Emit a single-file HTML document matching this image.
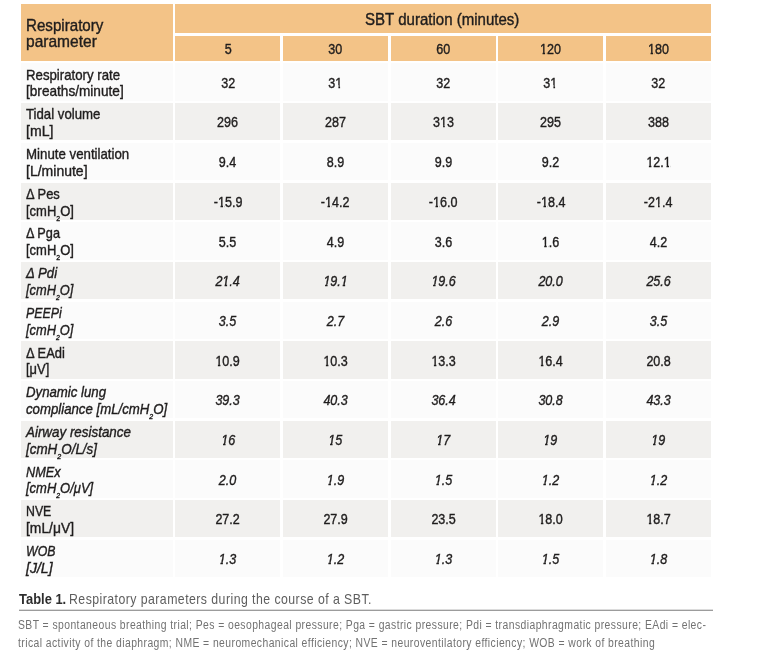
<!DOCTYPE html>
<html lang="en"><head><meta charset="utf-8"><title>Table 1. Respiratory parameters during the course of a SBT</title>
<style>
html,body{margin:0;padding:0;background:#fff;}
body{width:759px;height:665px;position:relative;overflow:hidden;font-family:"Liberation Sans",Arial,sans-serif;color:#1f1d1d;}
.b{position:absolute;}
#tx{position:absolute;left:0;top:0;width:759px;height:665px;will-change:transform;}
.t{position:absolute;white-space:nowrap;-webkit-text-stroke:0.4px currentColor;}
.t span{display:inline-block;transform-origin:0 50%;}
.t.c{text-align:center;}
.t.c span{transform-origin:50% 50%;}
.i{font-style:italic;}
.bold{font-weight:bold;}
.t.cap{color:#5e5e5e;-webkit-text-stroke:0;}
.t.cap.bold{color:#2e2e2e;}
.t.foot{color:#727272;-webkit-text-stroke:0;}
b.o{font-weight:normal;position:relative;}
b.o::before,b.o::after{content:"";position:absolute;background:var(--bg);bottom:0.1em;height:0.26em;}
b.o::before{left:0;width:0.215em;}
b.o::after{left:0.378em;width:0.185em;}
.i b.o::before{left:-0.04em;width:0.2em;}
.i b.o::after{left:0.345em;width:0.22em;}
sub{font-size:0.53em;vertical-align:baseline;position:relative;top:0.64em;line-height:0;}

</style></head>
<body>
<div class="b" style="left:21px;top:4px;width:152.00px;height:57.00px;background:#f3c387"></div>
<div class="b" style="left:175.3px;top:4px;width:535.70px;height:29.30px;background:#f3c387"></div>
<div class="b" style="left:175.3px;top:35.9px;width:105.20px;height:25.00px;background:#f3c387"></div>
<div class="b" style="left:283px;top:35.9px;width:105.00px;height:25.00px;background:#f3c387"></div>
<div class="b" style="left:390.5px;top:35.9px;width:105.50px;height:25.00px;background:#f3c387"></div>
<div class="b" style="left:498px;top:35.9px;width:105.30px;height:25.00px;background:#f3c387"></div>
<div class="b" style="left:606px;top:35.9px;width:105.00px;height:25.00px;background:#f3c387"></div>
<div class="b" style="left:21px;top:63.4px;width:152.00px;height:37.40px;background:#fbfbfb"></div>
<div class="b" style="left:175.3px;top:63.4px;width:105.20px;height:37.40px;background:#fbfbfb"></div>
<div class="b" style="left:283px;top:63.4px;width:105.00px;height:37.40px;background:#fbfbfb"></div>
<div class="b" style="left:390.5px;top:63.4px;width:105.50px;height:37.40px;background:#fbfbfb"></div>
<div class="b" style="left:498px;top:63.4px;width:105.30px;height:37.40px;background:#fbfbfb"></div>
<div class="b" style="left:606px;top:63.4px;width:105.00px;height:37.40px;background:#fbfbfb"></div>
<div class="b" style="left:21px;top:103.1px;width:152.00px;height:37.40px;background:#f1f0ee"></div>
<div class="b" style="left:175.3px;top:103.1px;width:105.20px;height:37.40px;background:#f1f0ee"></div>
<div class="b" style="left:283px;top:103.1px;width:105.00px;height:37.40px;background:#f1f0ee"></div>
<div class="b" style="left:390.5px;top:103.1px;width:105.50px;height:37.40px;background:#f1f0ee"></div>
<div class="b" style="left:498px;top:103.1px;width:105.30px;height:37.40px;background:#f1f0ee"></div>
<div class="b" style="left:606px;top:103.1px;width:105.00px;height:37.40px;background:#f1f0ee"></div>
<div class="b" style="left:21px;top:142.8px;width:152.00px;height:37.40px;background:#fbfbfb"></div>
<div class="b" style="left:175.3px;top:142.8px;width:105.20px;height:37.40px;background:#fbfbfb"></div>
<div class="b" style="left:283px;top:142.8px;width:105.00px;height:37.40px;background:#fbfbfb"></div>
<div class="b" style="left:390.5px;top:142.8px;width:105.50px;height:37.40px;background:#fbfbfb"></div>
<div class="b" style="left:498px;top:142.8px;width:105.30px;height:37.40px;background:#fbfbfb"></div>
<div class="b" style="left:606px;top:142.8px;width:105.00px;height:37.40px;background:#fbfbfb"></div>
<div class="b" style="left:21px;top:182.5px;width:152.00px;height:37.40px;background:#f1f0ee"></div>
<div class="b" style="left:175.3px;top:182.5px;width:105.20px;height:37.40px;background:#f1f0ee"></div>
<div class="b" style="left:283px;top:182.5px;width:105.00px;height:37.40px;background:#f1f0ee"></div>
<div class="b" style="left:390.5px;top:182.5px;width:105.50px;height:37.40px;background:#f1f0ee"></div>
<div class="b" style="left:498px;top:182.5px;width:105.30px;height:37.40px;background:#f1f0ee"></div>
<div class="b" style="left:606px;top:182.5px;width:105.00px;height:37.40px;background:#f1f0ee"></div>
<div class="b" style="left:21px;top:222.20000000000002px;width:152.00px;height:37.40px;background:#fbfbfb"></div>
<div class="b" style="left:175.3px;top:222.20000000000002px;width:105.20px;height:37.40px;background:#fbfbfb"></div>
<div class="b" style="left:283px;top:222.20000000000002px;width:105.00px;height:37.40px;background:#fbfbfb"></div>
<div class="b" style="left:390.5px;top:222.20000000000002px;width:105.50px;height:37.40px;background:#fbfbfb"></div>
<div class="b" style="left:498px;top:222.20000000000002px;width:105.30px;height:37.40px;background:#fbfbfb"></div>
<div class="b" style="left:606px;top:222.20000000000002px;width:105.00px;height:37.40px;background:#fbfbfb"></div>
<div class="b" style="left:21px;top:261.9px;width:152.00px;height:37.40px;background:#f1f0ee"></div>
<div class="b" style="left:175.3px;top:261.9px;width:105.20px;height:37.40px;background:#f1f0ee"></div>
<div class="b" style="left:283px;top:261.9px;width:105.00px;height:37.40px;background:#f1f0ee"></div>
<div class="b" style="left:390.5px;top:261.9px;width:105.50px;height:37.40px;background:#f1f0ee"></div>
<div class="b" style="left:498px;top:261.9px;width:105.30px;height:37.40px;background:#f1f0ee"></div>
<div class="b" style="left:606px;top:261.9px;width:105.00px;height:37.40px;background:#f1f0ee"></div>
<div class="b" style="left:21px;top:301.6px;width:152.00px;height:37.40px;background:#fbfbfb"></div>
<div class="b" style="left:175.3px;top:301.6px;width:105.20px;height:37.40px;background:#fbfbfb"></div>
<div class="b" style="left:283px;top:301.6px;width:105.00px;height:37.40px;background:#fbfbfb"></div>
<div class="b" style="left:390.5px;top:301.6px;width:105.50px;height:37.40px;background:#fbfbfb"></div>
<div class="b" style="left:498px;top:301.6px;width:105.30px;height:37.40px;background:#fbfbfb"></div>
<div class="b" style="left:606px;top:301.6px;width:105.00px;height:37.40px;background:#fbfbfb"></div>
<div class="b" style="left:21px;top:341.3px;width:152.00px;height:37.40px;background:#f1f0ee"></div>
<div class="b" style="left:175.3px;top:341.3px;width:105.20px;height:37.40px;background:#f1f0ee"></div>
<div class="b" style="left:283px;top:341.3px;width:105.00px;height:37.40px;background:#f1f0ee"></div>
<div class="b" style="left:390.5px;top:341.3px;width:105.50px;height:37.40px;background:#f1f0ee"></div>
<div class="b" style="left:498px;top:341.3px;width:105.30px;height:37.40px;background:#f1f0ee"></div>
<div class="b" style="left:606px;top:341.3px;width:105.00px;height:37.40px;background:#f1f0ee"></div>
<div class="b" style="left:21px;top:381.0px;width:152.00px;height:37.40px;background:#fbfbfb"></div>
<div class="b" style="left:175.3px;top:381.0px;width:105.20px;height:37.40px;background:#fbfbfb"></div>
<div class="b" style="left:283px;top:381.0px;width:105.00px;height:37.40px;background:#fbfbfb"></div>
<div class="b" style="left:390.5px;top:381.0px;width:105.50px;height:37.40px;background:#fbfbfb"></div>
<div class="b" style="left:498px;top:381.0px;width:105.30px;height:37.40px;background:#fbfbfb"></div>
<div class="b" style="left:606px;top:381.0px;width:105.00px;height:37.40px;background:#fbfbfb"></div>
<div class="b" style="left:21px;top:420.7px;width:152.00px;height:37.40px;background:#f1f0ee"></div>
<div class="b" style="left:175.3px;top:420.7px;width:105.20px;height:37.40px;background:#f1f0ee"></div>
<div class="b" style="left:283px;top:420.7px;width:105.00px;height:37.40px;background:#f1f0ee"></div>
<div class="b" style="left:390.5px;top:420.7px;width:105.50px;height:37.40px;background:#f1f0ee"></div>
<div class="b" style="left:498px;top:420.7px;width:105.30px;height:37.40px;background:#f1f0ee"></div>
<div class="b" style="left:606px;top:420.7px;width:105.00px;height:37.40px;background:#f1f0ee"></div>
<div class="b" style="left:21px;top:460.4px;width:152.00px;height:37.40px;background:#fbfbfb"></div>
<div class="b" style="left:175.3px;top:460.4px;width:105.20px;height:37.40px;background:#fbfbfb"></div>
<div class="b" style="left:283px;top:460.4px;width:105.00px;height:37.40px;background:#fbfbfb"></div>
<div class="b" style="left:390.5px;top:460.4px;width:105.50px;height:37.40px;background:#fbfbfb"></div>
<div class="b" style="left:498px;top:460.4px;width:105.30px;height:37.40px;background:#fbfbfb"></div>
<div class="b" style="left:606px;top:460.4px;width:105.00px;height:37.40px;background:#fbfbfb"></div>
<div class="b" style="left:21px;top:500.1px;width:152.00px;height:37.40px;background:#f1f0ee"></div>
<div class="b" style="left:175.3px;top:500.1px;width:105.20px;height:37.40px;background:#f1f0ee"></div>
<div class="b" style="left:283px;top:500.1px;width:105.00px;height:37.40px;background:#f1f0ee"></div>
<div class="b" style="left:390.5px;top:500.1px;width:105.50px;height:37.40px;background:#f1f0ee"></div>
<div class="b" style="left:498px;top:500.1px;width:105.30px;height:37.40px;background:#f1f0ee"></div>
<div class="b" style="left:606px;top:500.1px;width:105.00px;height:37.40px;background:#f1f0ee"></div>
<div class="b" style="left:21px;top:539.8000000000001px;width:152.00px;height:37.40px;background:#fbfbfb"></div>
<div class="b" style="left:175.3px;top:539.8000000000001px;width:105.20px;height:37.40px;background:#fbfbfb"></div>
<div class="b" style="left:283px;top:539.8000000000001px;width:105.00px;height:37.40px;background:#fbfbfb"></div>
<div class="b" style="left:390.5px;top:539.8000000000001px;width:105.50px;height:37.40px;background:#fbfbfb"></div>
<div class="b" style="left:498px;top:539.8000000000001px;width:105.30px;height:37.40px;background:#fbfbfb"></div>
<div class="b" style="left:606px;top:539.8000000000001px;width:105.00px;height:37.40px;background:#fbfbfb"></div>
<div class="b" style="left:18.7px;top:609px;width:694.30px;height:1.00px;background:#dcdcdc"></div>
<div class="b" style="left:18.7px;top:610px;width:694.30px;height:1.00px;background:#9c9c9c"></div>
<div id="tx">
<div class="t " style="left:25.67px;top:17.21px;font-size:17.0px;line-height:17.0px"><span style="transform:scaleX(0.8899)">Respiratory</span></div>
<div class="t " style="left:25.72px;top:33.41px;font-size:17.0px;line-height:17.0px"><span style="transform:scaleX(0.9144)">parameter</span></div>
<div class="t " style="left:365.41px;top:11.01px;font-size:17.0px;line-height:17.0px"><span style="transform:scaleX(0.8846)">SBT duration (minutes)</span></div>
<div class="t c " style="left:175.3px;width:105.20px;top:40.50px;font-size:15.0px;line-height:15.0px;--bg:#f3c387"><span style="transform:scaleX(0.8370)">5</span></div>
<div class="t c " style="left:283px;width:105.00px;top:40.50px;font-size:15.0px;line-height:15.0px;--bg:#f3c387"><span style="transform:scaleX(0.8370)">30</span></div>
<div class="t c " style="left:390.5px;width:105.50px;top:40.50px;font-size:15.0px;line-height:15.0px;--bg:#f3c387"><span style="transform:scaleX(0.8370)">60</span></div>
<div class="t c " style="left:498px;width:105.30px;top:40.50px;font-size:15.0px;line-height:15.0px;--bg:#f3c387"><span style="transform:scaleX(0.8370)"><b class="o">1</b>20</span></div>
<div class="t c " style="left:606px;width:105.00px;top:40.50px;font-size:15.0px;line-height:15.0px;--bg:#f3c387"><span style="transform:scaleX(0.8370)"><b class="o">1</b>80</span></div>
<div class="t " style="left:26.0px;top:66.60px;font-size:15.0px;line-height:15.0px"><span style="transform:scaleX(0.8811)">Respiratory rate</span></div>
<div class="t " style="left:26.0px;top:83.40px;font-size:15.0px;line-height:15.0px"><span style="transform:scaleX(0.9080)">[breaths/minute]</span></div>
<div class="t c " style="left:175.3px;width:105.20px;top:74.70px;font-size:15.0px;line-height:15.0px;--bg:#fbfbfb"><span style="transform:scaleX(0.8370)">32</span></div>
<div class="t c " style="left:283px;width:105.00px;top:74.70px;font-size:15.0px;line-height:15.0px;--bg:#fbfbfb"><span style="transform:scaleX(0.8370)">3<b class="o">1</b></span></div>
<div class="t c " style="left:390.5px;width:105.50px;top:74.70px;font-size:15.0px;line-height:15.0px;--bg:#fbfbfb"><span style="transform:scaleX(0.8370)">32</span></div>
<div class="t c " style="left:498px;width:105.30px;top:74.70px;font-size:15.0px;line-height:15.0px;--bg:#fbfbfb"><span style="transform:scaleX(0.8370)">3<b class="o">1</b></span></div>
<div class="t c " style="left:606px;width:105.00px;top:74.70px;font-size:15.0px;line-height:15.0px;--bg:#fbfbfb"><span style="transform:scaleX(0.8370)">32</span></div>
<div class="t " style="left:26.0px;top:106.30px;font-size:15.0px;line-height:15.0px"><span style="transform:scaleX(0.8804)">Tidal volume</span></div>
<div class="t " style="left:26.0px;top:123.10px;font-size:15.0px;line-height:15.0px"><span style="transform:scaleX(0.9384)">[mL]</span></div>
<div class="t c " style="left:175.3px;width:105.20px;top:114.40px;font-size:15.0px;line-height:15.0px;--bg:#f1f0ee"><span style="transform:scaleX(0.8370)">296</span></div>
<div class="t c " style="left:283px;width:105.00px;top:114.40px;font-size:15.0px;line-height:15.0px;--bg:#f1f0ee"><span style="transform:scaleX(0.8370)">287</span></div>
<div class="t c " style="left:390.5px;width:105.50px;top:114.40px;font-size:15.0px;line-height:15.0px;--bg:#f1f0ee"><span style="transform:scaleX(0.8370)">3<b class="o">1</b>3</span></div>
<div class="t c " style="left:498px;width:105.30px;top:114.40px;font-size:15.0px;line-height:15.0px;--bg:#f1f0ee"><span style="transform:scaleX(0.8370)">295</span></div>
<div class="t c " style="left:606px;width:105.00px;top:114.40px;font-size:15.0px;line-height:15.0px;--bg:#f1f0ee"><span style="transform:scaleX(0.8370)">388</span></div>
<div class="t " style="left:26.0px;top:146.00px;font-size:15.0px;line-height:15.0px"><span style="transform:scaleX(0.8844)">Minute ventilation</span></div>
<div class="t " style="left:26.0px;top:162.80px;font-size:15.0px;line-height:15.0px"><span style="transform:scaleX(0.9345)">[L/minute]</span></div>
<div class="t c " style="left:175.3px;width:105.20px;top:154.10px;font-size:15.0px;line-height:15.0px;--bg:#fbfbfb"><span style="transform:scaleX(0.8370)">9.4</span></div>
<div class="t c " style="left:283px;width:105.00px;top:154.10px;font-size:15.0px;line-height:15.0px;--bg:#fbfbfb"><span style="transform:scaleX(0.8370)">8.9</span></div>
<div class="t c " style="left:390.5px;width:105.50px;top:154.10px;font-size:15.0px;line-height:15.0px;--bg:#fbfbfb"><span style="transform:scaleX(0.8370)">9.9</span></div>
<div class="t c " style="left:498px;width:105.30px;top:154.10px;font-size:15.0px;line-height:15.0px;--bg:#fbfbfb"><span style="transform:scaleX(0.8370)">9.2</span></div>
<div class="t c " style="left:606px;width:105.00px;top:154.10px;font-size:15.0px;line-height:15.0px;--bg:#fbfbfb"><span style="transform:scaleX(0.8370)"><b class="o">1</b>2.<b class="o">1</b></span></div>
<div class="t " style="left:26.0px;top:185.70px;font-size:15.0px;line-height:15.0px"><span style="transform:scaleX(0.8618)">&Delta; Pes</span></div>
<div class="t " style="left:26.0px;top:202.50px;font-size:15.0px;line-height:15.0px"><span style="transform:scaleX(0.8661)">[cmH<sub>2</sub>O]</span></div>
<div class="t c " style="left:175.3px;width:105.20px;top:193.80px;font-size:15.0px;line-height:15.0px;--bg:#f1f0ee"><span style="transform:scaleX(0.8370)">-<b class="o">1</b>5.9</span></div>
<div class="t c " style="left:283px;width:105.00px;top:193.80px;font-size:15.0px;line-height:15.0px;--bg:#f1f0ee"><span style="transform:scaleX(0.8370)">-<b class="o">1</b>4.2</span></div>
<div class="t c " style="left:390.5px;width:105.50px;top:193.80px;font-size:15.0px;line-height:15.0px;--bg:#f1f0ee"><span style="transform:scaleX(0.8370)">-<b class="o">1</b>6.0</span></div>
<div class="t c " style="left:498px;width:105.30px;top:193.80px;font-size:15.0px;line-height:15.0px;--bg:#f1f0ee"><span style="transform:scaleX(0.8370)">-<b class="o">1</b>8.4</span></div>
<div class="t c " style="left:606px;width:105.00px;top:193.80px;font-size:15.0px;line-height:15.0px;--bg:#f1f0ee"><span style="transform:scaleX(0.8370)">-2<b class="o">1</b>.4</span></div>
<div class="t " style="left:26.0px;top:225.40px;font-size:15.0px;line-height:15.0px"><span style="transform:scaleX(0.8480)">&Delta; Pga</span></div>
<div class="t " style="left:26.0px;top:242.20px;font-size:15.0px;line-height:15.0px"><span style="transform:scaleX(0.8666)">[cmH<sub>2</sub>O]</span></div>
<div class="t c " style="left:175.3px;width:105.20px;top:233.50px;font-size:15.0px;line-height:15.0px;--bg:#fbfbfb"><span style="transform:scaleX(0.8370)">5.5</span></div>
<div class="t c " style="left:283px;width:105.00px;top:233.50px;font-size:15.0px;line-height:15.0px;--bg:#fbfbfb"><span style="transform:scaleX(0.8370)">4.9</span></div>
<div class="t c " style="left:390.5px;width:105.50px;top:233.50px;font-size:15.0px;line-height:15.0px;--bg:#fbfbfb"><span style="transform:scaleX(0.8370)">3.6</span></div>
<div class="t c " style="left:498px;width:105.30px;top:233.50px;font-size:15.0px;line-height:15.0px;--bg:#fbfbfb"><span style="transform:scaleX(0.8370)"><b class="o">1</b>.6</span></div>
<div class="t c " style="left:606px;width:105.00px;top:233.50px;font-size:15.0px;line-height:15.0px;--bg:#fbfbfb"><span style="transform:scaleX(0.8370)">4.2</span></div>
<div class="t i" style="left:26.0px;top:265.10px;font-size:15.0px;line-height:15.0px"><span style="transform:scaleX(0.8811)">&Delta; Pdi</span></div>
<div class="t i" style="left:26.0px;top:281.90px;font-size:15.0px;line-height:15.0px"><span style="transform:scaleX(0.8555)">[cmH<sub>2</sub>O]</span></div>
<div class="t c i" style="left:175.3px;width:105.20px;top:273.20px;font-size:15.0px;line-height:15.0px;--bg:#f1f0ee"><span style="transform:scaleX(0.8370)">2<b class="o">1</b>.4</span></div>
<div class="t c i" style="left:283px;width:105.00px;top:273.20px;font-size:15.0px;line-height:15.0px;--bg:#f1f0ee"><span style="transform:scaleX(0.8370)"><b class="o">1</b>9.<b class="o">1</b></span></div>
<div class="t c i" style="left:390.5px;width:105.50px;top:273.20px;font-size:15.0px;line-height:15.0px;--bg:#f1f0ee"><span style="transform:scaleX(0.8370)"><b class="o">1</b>9.6</span></div>
<div class="t c i" style="left:498px;width:105.30px;top:273.20px;font-size:15.0px;line-height:15.0px;--bg:#f1f0ee"><span style="transform:scaleX(0.8370)">20.0</span></div>
<div class="t c i" style="left:606px;width:105.00px;top:273.20px;font-size:15.0px;line-height:15.0px;--bg:#f1f0ee"><span style="transform:scaleX(0.8370)">25.6</span></div>
<div class="t i" style="left:26.0px;top:304.80px;font-size:15.0px;line-height:15.0px"><span style="transform:scaleX(0.8230)">PEEPi</span></div>
<div class="t i" style="left:26.0px;top:321.60px;font-size:15.0px;line-height:15.0px"><span style="transform:scaleX(0.8559)">[cmH<sub>2</sub>O]</span></div>
<div class="t c i" style="left:175.3px;width:105.20px;top:312.90px;font-size:15.0px;line-height:15.0px;--bg:#fbfbfb"><span style="transform:scaleX(0.8370)">3.5</span></div>
<div class="t c i" style="left:283px;width:105.00px;top:312.90px;font-size:15.0px;line-height:15.0px;--bg:#fbfbfb"><span style="transform:scaleX(0.8370)">2.7</span></div>
<div class="t c i" style="left:390.5px;width:105.50px;top:312.90px;font-size:15.0px;line-height:15.0px;--bg:#fbfbfb"><span style="transform:scaleX(0.8370)">2.6</span></div>
<div class="t c i" style="left:498px;width:105.30px;top:312.90px;font-size:15.0px;line-height:15.0px;--bg:#fbfbfb"><span style="transform:scaleX(0.8370)">2.9</span></div>
<div class="t c i" style="left:606px;width:105.00px;top:312.90px;font-size:15.0px;line-height:15.0px;--bg:#fbfbfb"><span style="transform:scaleX(0.8370)">3.5</span></div>
<div class="t " style="left:26.0px;top:344.50px;font-size:15.0px;line-height:15.0px"><span style="transform:scaleX(0.8635)">&Delta; EAdi</span></div>
<div class="t " style="left:26.0px;top:361.30px;font-size:15.0px;line-height:15.0px"><span style="transform:scaleX(0.8602)">[&mu;V]</span></div>
<div class="t c " style="left:175.3px;width:105.20px;top:352.60px;font-size:15.0px;line-height:15.0px;--bg:#f1f0ee"><span style="transform:scaleX(0.8370)"><b class="o">1</b>0.9</span></div>
<div class="t c " style="left:283px;width:105.00px;top:352.60px;font-size:15.0px;line-height:15.0px;--bg:#f1f0ee"><span style="transform:scaleX(0.8370)"><b class="o">1</b>0.3</span></div>
<div class="t c " style="left:390.5px;width:105.50px;top:352.60px;font-size:15.0px;line-height:15.0px;--bg:#f1f0ee"><span style="transform:scaleX(0.8370)"><b class="o">1</b>3.3</span></div>
<div class="t c " style="left:498px;width:105.30px;top:352.60px;font-size:15.0px;line-height:15.0px;--bg:#f1f0ee"><span style="transform:scaleX(0.8370)"><b class="o">1</b>6.4</span></div>
<div class="t c " style="left:606px;width:105.00px;top:352.60px;font-size:15.0px;line-height:15.0px;--bg:#f1f0ee"><span style="transform:scaleX(0.8370)">20.8</span></div>
<div class="t i" style="left:26.0px;top:384.20px;font-size:15.0px;line-height:15.0px"><span style="transform:scaleX(0.8807)">Dynamic lung</span></div>
<div class="t i" style="left:26.0px;top:401.00px;font-size:15.0px;line-height:15.0px"><span style="transform:scaleX(0.8804)">compliance [mL/cmH<sub>2</sub>O]</span></div>
<div class="t c i" style="left:175.3px;width:105.20px;top:392.30px;font-size:15.0px;line-height:15.0px;--bg:#fbfbfb"><span style="transform:scaleX(0.8370)">39.3</span></div>
<div class="t c i" style="left:283px;width:105.00px;top:392.30px;font-size:15.0px;line-height:15.0px;--bg:#fbfbfb"><span style="transform:scaleX(0.8370)">40.3</span></div>
<div class="t c i" style="left:390.5px;width:105.50px;top:392.30px;font-size:15.0px;line-height:15.0px;--bg:#fbfbfb"><span style="transform:scaleX(0.8370)">36.4</span></div>
<div class="t c i" style="left:498px;width:105.30px;top:392.30px;font-size:15.0px;line-height:15.0px;--bg:#fbfbfb"><span style="transform:scaleX(0.8370)">30.8</span></div>
<div class="t c i" style="left:606px;width:105.00px;top:392.30px;font-size:15.0px;line-height:15.0px;--bg:#fbfbfb"><span style="transform:scaleX(0.8370)">43.3</span></div>
<div class="t i" style="left:26.0px;top:423.90px;font-size:15.0px;line-height:15.0px"><span style="transform:scaleX(0.8929)">Airway resistance</span></div>
<div class="t i" style="left:26.0px;top:440.70px;font-size:15.0px;line-height:15.0px"><span style="transform:scaleX(0.8941)">[cmH<sub>2</sub>O/L/s]</span></div>
<div class="t c i" style="left:175.3px;width:105.20px;top:432.00px;font-size:15.0px;line-height:15.0px;--bg:#f1f0ee"><span style="transform:scaleX(0.8370)"><b class="o">1</b>6</span></div>
<div class="t c i" style="left:283px;width:105.00px;top:432.00px;font-size:15.0px;line-height:15.0px;--bg:#f1f0ee"><span style="transform:scaleX(0.8370)"><b class="o">1</b>5</span></div>
<div class="t c i" style="left:390.5px;width:105.50px;top:432.00px;font-size:15.0px;line-height:15.0px;--bg:#f1f0ee"><span style="transform:scaleX(0.8370)"><b class="o">1</b>7</span></div>
<div class="t c i" style="left:498px;width:105.30px;top:432.00px;font-size:15.0px;line-height:15.0px;--bg:#f1f0ee"><span style="transform:scaleX(0.8370)"><b class="o">1</b>9</span></div>
<div class="t c i" style="left:606px;width:105.00px;top:432.00px;font-size:15.0px;line-height:15.0px;--bg:#f1f0ee"><span style="transform:scaleX(0.8370)"><b class="o">1</b>9</span></div>
<div class="t i" style="left:26.0px;top:463.60px;font-size:15.0px;line-height:15.0px"><span style="transform:scaleX(0.8468)">NMEx</span></div>
<div class="t i" style="left:26.0px;top:480.40px;font-size:15.0px;line-height:15.0px"><span style="transform:scaleX(0.8654)">[cmH<sub>2</sub>O/&mu;V]</span></div>
<div class="t c i" style="left:175.3px;width:105.20px;top:471.70px;font-size:15.0px;line-height:15.0px;--bg:#fbfbfb"><span style="transform:scaleX(0.8370)">2.0</span></div>
<div class="t c i" style="left:283px;width:105.00px;top:471.70px;font-size:15.0px;line-height:15.0px;--bg:#fbfbfb"><span style="transform:scaleX(0.8370)"><b class="o">1</b>.9</span></div>
<div class="t c i" style="left:390.5px;width:105.50px;top:471.70px;font-size:15.0px;line-height:15.0px;--bg:#fbfbfb"><span style="transform:scaleX(0.8370)"><b class="o">1</b>.5</span></div>
<div class="t c i" style="left:498px;width:105.30px;top:471.70px;font-size:15.0px;line-height:15.0px;--bg:#fbfbfb"><span style="transform:scaleX(0.8370)"><b class="o">1</b>.2</span></div>
<div class="t c i" style="left:606px;width:105.00px;top:471.70px;font-size:15.0px;line-height:15.0px;--bg:#fbfbfb"><span style="transform:scaleX(0.8370)"><b class="o">1</b>.2</span></div>
<div class="t " style="left:26.0px;top:503.30px;font-size:15.0px;line-height:15.0px"><span style="transform:scaleX(0.8216)">NVE</span></div>
<div class="t " style="left:26.0px;top:520.10px;font-size:15.0px;line-height:15.0px"><span style="transform:scaleX(0.9234)">[mL/&mu;V]</span></div>
<div class="t c " style="left:175.3px;width:105.20px;top:511.40px;font-size:15.0px;line-height:15.0px;--bg:#f1f0ee"><span style="transform:scaleX(0.8370)">27.2</span></div>
<div class="t c " style="left:283px;width:105.00px;top:511.40px;font-size:15.0px;line-height:15.0px;--bg:#f1f0ee"><span style="transform:scaleX(0.8370)">27.9</span></div>
<div class="t c " style="left:390.5px;width:105.50px;top:511.40px;font-size:15.0px;line-height:15.0px;--bg:#f1f0ee"><span style="transform:scaleX(0.8370)">23.5</span></div>
<div class="t c " style="left:498px;width:105.30px;top:511.40px;font-size:15.0px;line-height:15.0px;--bg:#f1f0ee"><span style="transform:scaleX(0.8370)"><b class="o">1</b>8.0</span></div>
<div class="t c " style="left:606px;width:105.00px;top:511.40px;font-size:15.0px;line-height:15.0px;--bg:#f1f0ee"><span style="transform:scaleX(0.8370)"><b class="o">1</b>8.7</span></div>
<div class="t i" style="left:26.0px;top:543.00px;font-size:15.0px;line-height:15.0px"><span style="transform:scaleX(0.8213)">WOB</span></div>
<div class="t i" style="left:26.0px;top:559.80px;font-size:15.0px;line-height:15.0px"><span style="transform:scaleX(0.9368)">[J/L]</span></div>
<div class="t c i" style="left:175.3px;width:105.20px;top:551.10px;font-size:15.0px;line-height:15.0px;--bg:#fbfbfb"><span style="transform:scaleX(0.8370)"><b class="o">1</b>.3</span></div>
<div class="t c i" style="left:283px;width:105.00px;top:551.10px;font-size:15.0px;line-height:15.0px;--bg:#fbfbfb"><span style="transform:scaleX(0.8370)"><b class="o">1</b>.2</span></div>
<div class="t c i" style="left:390.5px;width:105.50px;top:551.10px;font-size:15.0px;line-height:15.0px;--bg:#fbfbfb"><span style="transform:scaleX(0.8370)"><b class="o">1</b>.3</span></div>
<div class="t c i" style="left:498px;width:105.30px;top:551.10px;font-size:15.0px;line-height:15.0px;--bg:#fbfbfb"><span style="transform:scaleX(0.8370)"><b class="o">1</b>.5</span></div>
<div class="t c i" style="left:606px;width:105.00px;top:551.10px;font-size:15.0px;line-height:15.0px;--bg:#fbfbfb"><span style="transform:scaleX(0.8370)"><b class="o">1</b>.8</span></div>
<div class="t bold cap" style="left:19.33px;top:591.10px;font-size:15.0px;line-height:15.0px"><span style="transform:scaleX(0.8623)">Table 1.</span></div>
<div class="t cap" style="left:68.77px;top:591.10px;font-size:15.0px;line-height:15.0px;letter-spacing:0.551px"><span style="transform:scaleX(0.8200)">Respiratory parameters during the course of a SBT.</span></div>
<div class="t foot" style="left:17.75px;top:618.82px;font-size:12.5px;line-height:12.5px;letter-spacing:0.515px"><span style="transform:scaleX(0.8300)">SBT = spontaneous breathing trial; Pes = oesophageal pressure; Pga = gastric pressure; Pdi = transdiaphragmatic pressure; EAdi = elec-</span></div>
<div class="t foot" style="left:18.21px;top:637.32px;font-size:12.5px;line-height:12.5px;letter-spacing:0.513px"><span style="transform:scaleX(0.8300)">trical activity of the diaphragm; NME = neuromechanical efficiency; NVE = neuroventilatory efficiency; WOB = work of breathing</span></div>
</div>
</body></html>
